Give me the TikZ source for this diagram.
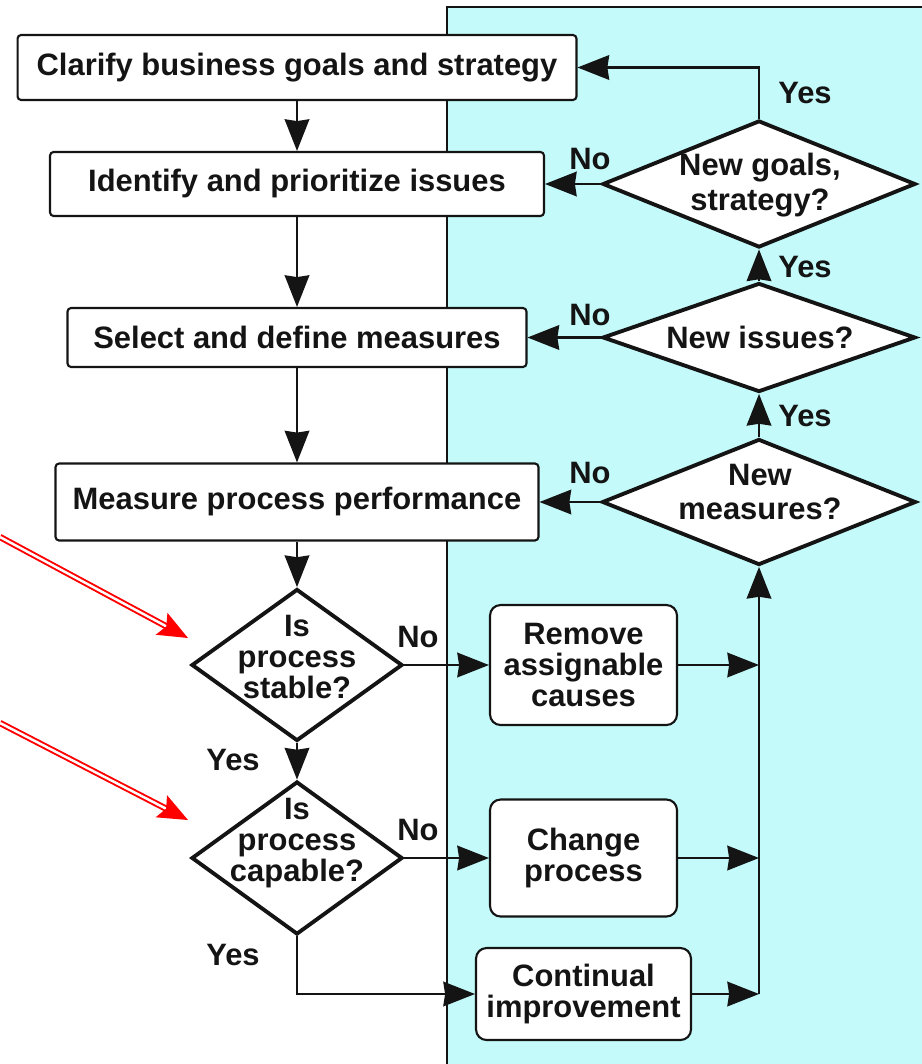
\documentclass[tikz,border=0pt]{standalone}
\usepackage{fontspec}
\setmainfont{Liberation Sans}
\usepackage{xcolor}
\definecolor{Col1}{RGB}{196,250,250}
\definecolor{Col2}{RGB}{255,0,0}
\definecolor{Col3}{RGB}{20,20,20}
\usepackage{tikz}
\usetikzlibrary{shapes}
\usetikzlibrary{arrows.meta}
\tikzstyle{Lbl}=[font=\fontsize{17.6}{17.6}\selectfont\bfseries,text=Col3,
align=center,inner sep=0pt]
\tikzstyle{Box}=[rectangle,draw=Col3,fill=white,line width=1.2pt,
rounded corners=2pt,Lbl]
\tikzstyle{BoxR}=[Box,rounded corners=6pt]
\tikzstyle{Test}=[diamond,draw=Col3,fill=white,line width=2.2pt,inner sep=0pt]
\tikzstyle{Edge}=[draw=Col3,line width=1.3pt,
-{Triangle[length=18pt,width=14pt,inset=1pt]}]
\tikzstyle{Pointer}=[draw=Col2,double=white,double distance=1.4pt,
line width=1.1pt,-{Stealth[length=17pt,width=14pt,inset=3pt]}]

\begin{document}
\begin{tikzpicture}[x=0.02cm,y=-0.02cm]
            \useasboundingbox(0,0)rectangle(922,1064);
            \fill[Col1](447,7)rectangle(922,1064);
            \draw[Col3,line width=1.2pt](447,1064)--(447,7)--(922,7);
            %
            \node[Box,minimum width=11.18cm,minimum height=1.30cm](clar)
                at(297.00,67.50){Clarify business goals and strategy};
            \node[Box,minimum width=9.88cm,minimum height=1.28cm](iden)
                at(297.00,184.00){Identify and prioritize issues};
            \node[Box,minimum width=9.18cm,minimum height=1.18cm](sel)
                at(297.00,337.50){Select and define measures};
            \node[Box,minimum width=9.66cm,minimum height=1.54cm](meas)
                at(297.00,502.00){Measure process performance};
            \node[Test,minimum width=4.22cm,minimum height=3.04cm](stab)
                at(297.00,665.00){};
            \node[Test,minimum width=4.22cm,minimum height=3.06cm](capa)
                at(297.00,858.00){};
            \node[Lbl](stabT)at(297.00,657.00){Is\\process\\stable?};
            \node[Lbl](capaT)at(297.00,843.00){Is\\process\\capable?};
            \node[BoxR,minimum width=3.74cm,minimum height=2.40cm](remv)
                at(583.50,665.00){Remove\\assignable\\causes};
            \node[BoxR,minimum width=3.74cm,minimum height=2.34cm](chng)
                at(583.50,858.00){Change\\process};
            \node[BoxR,minimum width=4.30cm,minimum height=1.84cm](cont)
                at(583.50,994.00){Continual\\improvement};
            \node[Test,minimum width=6.26cm,minimum height=2.54cm](goal)
                at(759.00,184.00){};
            \node[Test,minimum width=6.26cm,minimum height=2.18cm](issu)
                at(759.00,337.50){};
            \node[Test,minimum width=6.28cm,minimum height=2.52cm](nmea)
                at(759.00,502.00){};
            \node[Lbl](goalT)at(760.00,185.00){New goals,\\[2pt]strategy?};
            \node[Lbl](issuT)at(760.00,337.50){New issues?};
            \node[Lbl](nmeaT)at(760.00,492.00){New\\[2pt]measures?};
            %
            \node[Lbl](y1)at(805.00,93.00){Yes};
            \node[Lbl](n1)at(590.00,159.00){No};
            \node[Lbl](y2)at(805.00,267.00){Yes};
            \node[Lbl](n2)at(590.00,315.00){No};
            \node[Lbl](y3)at(805.00,416.00){Yes};
            \node[Lbl](n3)at(590.00,473.00){No};
            \node[Lbl](n4)at(418.00,637.00){No};
            \node[Lbl](y4)at(233.00,760.00){Yes};
            \node[Lbl](n5)at(418.00,830.00){No};
            \node[Lbl](y5)at(233.00,955.00){Yes};
            %
            \draw[Edge](clar)--(iden);
            \draw[Edge](iden)--(sel);
            \draw[Edge](sel)--(meas);
            \draw[Edge](meas)--(stab);
            \draw[Edge](stab)--(capa);
            \draw[Edge](stab)--(remv);
            \draw[Edge](capa)--(chng);
            \draw[Edge](capa)|-(cont);
            \draw[Edge](remv)--(remv-|nmea);
            \draw[Edge](chng)--(chng-|nmea);
            \draw[Edge](cont)--(cont-|nmea);
            \draw[Edge](cont-|nmea)--(nmea);
            \draw[Edge](nmea)--(issu);
            \draw[Edge](issu)--(goal);
            \draw[Edge](goal)|-(clar);
            \draw[Edge](goal)--(iden);
            \draw[Edge](issu)--(sel);
            \draw[Edge](nmea)--(meas);
            %
            \coordinate(p1)at(0,537);
            \coordinate(q1)at(188,638);
            \coordinate(p2)at(0,723);
            \coordinate(q2)at(188,820);
            \draw[Pointer](p1)--(q1);
            \draw[Pointer](p2)--(q2);
        \end{tikzpicture}
\end{document}
